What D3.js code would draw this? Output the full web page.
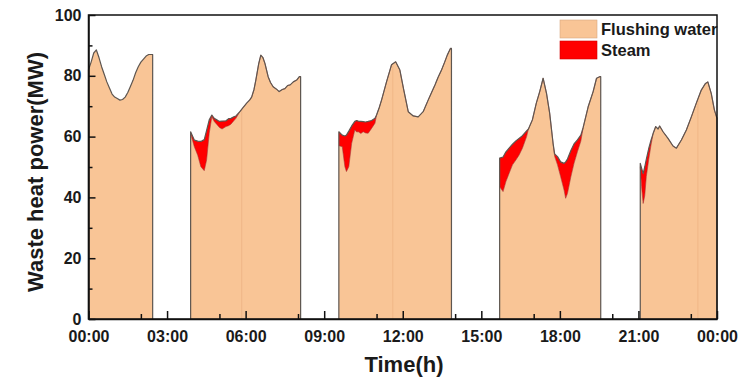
<!DOCTYPE html>
<html>
<head>
<meta charset="utf-8">
<script src="https://cdn.jsdelivr.net/npm/d3@7"></script>
<style>
  html, body { margin: 0; padding: 0; background: #fff; }
  svg { display: block; font-family: "Liberation Sans", Arial, sans-serif; }
</style>
</head>
<body>
<div id="chart"></div>
<script>
// ---- Data (hours, MW) ----
const seg1Time  = [0, 0.1, 0.2, 0.3, 0.4, 0.5, 0.6, 0.7, 0.8, 0.9, 1.0, 1.1, 1.2, 1.3, 1.4, 1.5, 1.6, 1.7, 1.8, 1.9, 2.0, 2.1, 2.2, 2.3, 2.45];
const seg1Flush = [82, 84.5, 87.5, 88.5, 86, 83, 80.5, 78, 76, 74, 73, 72.5, 72, 72.2, 73, 74.5, 76.5, 78.5, 81, 83, 84.5, 85.5, 86.5, 87, 87];
const seg1Steam = [0, 0, 0, 0, 0, 0, 0, 0, 0, 0, 0, 0, 0, 0, 0, 0, 0, 0, 0, 0, 0, 0, 0, 0, 0];

const seg2Time  = [3.90, 4.04, 4.17, 4.29, 4.42, 4.51, 4.61, 4.71, 4.80, 4.90, 5.00, 5.10, 5.25, 5.35, 5.44, 5.55, 5.63, 5.78, 5.90, 6.04, 6.15, 6.23, 6.32, 6.39, 6.50, 6.58, 6.66, 6.74, 6.86, 6.95, 7.05, 7.18, 7.28, 7.40, 7.50, 7.60, 7.70, 7.82, 7.95, 8.05, 8.10];
const seg2Flush = [61.0, 56.7, 53.9, 50.1, 48.8, 52.3, 61.1, 66.5, 65.0, 64.0, 63.0, 62.5, 63.3, 63.6, 64.1, 65.2, 66.0, 68.2, 69.5, 71.0, 72.0, 73.0, 75.5, 78.6, 84.0, 86.8, 86.0, 84.0, 79.7, 77.8, 76.4, 75.6, 74.8, 75.5, 75.8, 76.8, 77.0, 78.0, 78.6, 79.7, 79.7];
const seg2Steam = [0.6, 2.2, 4.6, 8.3, 10.2, 9.7, 4.4, 0.6, 1.0, 1.5, 2.0, 2.6, 1.9, 2.3, 1.9, 1.3, 0.8, 0, 0, 0, 0, 0, 0, 0, 0, 0, 0, 0, 0, 0, 0, 0, 0, 0, 0, 0, 0, 0, 0, 0, 0];

const seg3Time  = [9.56, 9.69, 9.79, 9.85, 9.94, 10.05, 10.17, 10.24, 10.30, 10.40, 10.49, 10.58, 10.68, 10.81, 10.94, 11.00, 11.10, 11.19, 11.38, 11.57, 11.73, 11.89, 12.04, 12.21, 12.40, 12.59, 12.78, 12.97, 13.10, 13.23, 13.35, 13.48, 13.60, 13.70, 13.82, 13.86];
const seg3Flush = [57.0, 56.7, 50.1, 48.5, 50.1, 57.8, 62.2, 61.5, 61.6, 61.0, 61.6, 61.2, 61.1, 62.7, 64.4, 67.1, 69.5, 72.0, 78.0, 83.6, 84.6, 81.9, 75.3, 68.2, 66.8, 66.5, 68.2, 72.0, 74.5, 77.0, 79.5, 81.9, 84.5, 86.8, 89.0, 89.0];
const seg3Steam = [4.6, 3.8, 10.1, 12.0, 11.7, 5.7, 2.8, 3.8, 3.5, 4.0, 3.3, 3.6, 3.9, 2.6, 1.6, 0, 0, 0, 0, 0, 0, 0, 0, 0, 0, 0, 0, 0, 0, 0, 0, 0, 0, 0, 0, 0];

const seg4Time  = [15.70, 15.83, 15.94, 16.06, 16.19, 16.32, 16.44, 16.57, 16.73, 16.80, 16.95, 17.10, 17.23, 17.36, 17.49, 17.61, 17.74, 17.80, 17.91, 18.03, 18.16, 18.22, 18.29, 18.42, 18.54, 18.67, 18.80, 18.89, 19.08, 19.27, 19.40, 19.52, 19.56];
const seg4Flush = [43.5, 41.9, 45.2, 47.9, 50.7, 52.3, 53.9, 56.2, 60.0, 62.5, 65.5, 71.0, 74.8, 79.2, 74.2, 67.7, 57.8, 53.5, 50.7, 46.8, 42.4, 39.7, 41.3, 46.8, 51.2, 55.0, 58.5, 63.0, 69.8, 74.8, 79.2, 79.7, 79.7];
const seg4Steam = [9.4, 11.4, 9.8, 8.3, 6.8, 6.3, 5.5, 4.1, 1.9, 0, 0, 0, 0, 0, 0, 0, 0, 0.8, 2.7, 4.9, 8.8, 12.0, 11.3, 8.6, 6.4, 3.9, 2.0, 0, 0, 0, 0, 0, 0];

const seg5Time  = [21.07, 21.12, 21.18, 21.24, 21.30, 21.39, 21.48, 21.56, 21.66, 21.75, 21.81, 21.94, 22.13, 22.32, 22.45, 22.64, 22.83, 23.02, 23.21, 23.40, 23.56, 23.65, 23.78, 23.90, 24.00];
const seg5Flush = [50.1, 43.5, 38.0, 40.5, 46.8, 52.3, 57.2, 61.0, 63.3, 62.5, 63.5, 61.6, 59.4, 56.9, 56.2, 58.9, 62.2, 66.5, 71.0, 75.3, 77.5, 78.0, 74.2, 68.8, 66.0];
const seg5Steam = [1.1, 6.1, 9.8, 9.5, 5.7, 3.7, 1.6, 0, 0, 0, 0, 0, 0, 0, 0, 0, 0, 0, 0, 0, 0, 0, 0, 0, 0];

// faint fill seams visible inside the orange areas of the original
const seamTimes = [5.85, 11.62, 23.27];

const xTickValues = [0, 3, 6, 9, 12, 15, 18, 21, 24];
const xTickLabels = ["00:00", "03:00", "06:00", "09:00", "12:00", "15:00", "18:00", "21:00", "00:00"];
const xMinorTicks = [2, 5, 8, 11, 14, 17, 20, 23];
const yTickValues = [0, 20, 40, 60, 80, 100];
const yMinorTicks = [10, 30, 50, 70, 90];
const seriesNames = ["Flushing water", "Steam"];
const seriesColors = ["#F9C596", "#FF0000"];

// ---- Build ----
const W = 751, H = 383;
const mLeft = 88.5, mRight = 717, mTop = 15, mBottom = 319;

const segments = [
  [seg1Time, seg1Flush, seg1Steam],
  [seg2Time, seg2Flush, seg2Steam],
  [seg3Time, seg3Flush, seg3Steam],
  [seg4Time, seg4Flush, seg4Steam],
  [seg5Time, seg5Flush, seg5Steam]
].map(([t, f, s]) => t.map((d, i) => ({ t: d, f: f[i], s: s[i] })));

const x = d3.scaleLinear().domain([0, 24]).range([mLeft, mRight]);
const y = d3.scaleLinear().domain([0, 100]).range([mBottom, mTop]);

const svg = d3.select("#chart").append("svg").attr("width", W).attr("height", H);

const flushArea = d3.area().x(d => x(d.t)).y0(y(0)).y1(d => y(d.f));
const steamArea = d3.area().x(d => x(d.t)).y0(d => y(d.f)).y1(d => y(d.f + d.s));
const outline = d3.line().x(d => x(d.t)).y(d => y(d.v));
const flushLine = d3.line().x(d => x(d.t)).y(d => y(d.f));

const plot = svg.append("g");
segments.forEach(seg => {
  plot.append("path").attr("d", flushArea(seg)).attr("fill", seriesColors[0]);
  // seams
  seamTimes.forEach(st => {
    if (st > seg[0].t && st < seg[seg.length - 1].t) {
      const fv = d3.scaleLinear().domain(seg.map(d => d.t)).range(seg.map(d => d.f))(st);
      plot.append("line").attr("x1", x(st)).attr("x2", x(st)).attr("y1", y(0)).attr("y2", y(fv) + 1)
        .attr("stroke", "#EBB080").attr("stroke-width", 1).attr("stroke-opacity", 0.7);
    }
  });
  plot.append("path").attr("d", steamArea(seg)).attr("fill", seriesColors[1]);
  if (seg.some(d => d.s > 0)) {
    plot.append("path").attr("d", flushLine(seg))
      .attr("fill", "none").attr("stroke", "#a0302a").attr("stroke-width", 0.7).attr("stroke-opacity", 0.8);
  }
  const pts = [{ t: seg[0].t, v: 0 }]
    .concat(seg.map(d => ({ t: d.t, v: d.f + d.s })))
    .concat([{ t: seg[seg.length - 1].t, v: 0 }]);
  plot.append("path").attr("d", outline(pts))
    .attr("fill", "none").attr("stroke", "#5e5650").attr("stroke-width", 1.2)
    .attr("stroke-linejoin", "round");
});

// ---- Axes ----
const fontStyle = sel => sel.attr("font-family", '"Liberation Sans", Arial, sans-serif')
  .attr("font-weight", "bold").attr("font-size", 16).attr("fill", "#1a1a1a");

const xAxis = svg.append("g").attr("transform", `translate(0,${mBottom})`)
  .call(d3.axisBottom(x).tickValues(xTickValues).tickFormat((d, i) => xTickLabels[i])
    .tickSizeInner(-8).tickSizeOuter(0).tickPadding(12));
xAxis.selectAll("text").call(fontStyle);
const xMinor = svg.append("g").attr("transform", `translate(0,${mBottom})`)
  .call(d3.axisBottom(x).tickValues(xMinorTicks).tickFormat("").tickSizeInner(-5).tickSizeOuter(0));
xMinor.select(".domain").remove();

const yAxis = svg.append("g").attr("transform", `translate(${mLeft},0)`)
  .call(d3.axisLeft(y).tickValues(yTickValues).tickSizeInner(-7).tickSizeOuter(0).tickPadding(7));
yAxis.selectAll("text").call(fontStyle);
const yMinor = svg.append("g").attr("transform", `translate(${mLeft},0)`)
  .call(d3.axisLeft(y).tickValues(yMinorTicks).tickFormat("").tickSizeInner(-4).tickSizeOuter(0));
yMinor.select(".domain").remove();

svg.selectAll(".tick line").attr("stroke", "#111").attr("stroke-width", 1.5);
svg.selectAll(".domain").attr("stroke", "#111").attr("stroke-width", 1.5);

// frame
svg.append("rect").attr("x", mLeft).attr("y", mTop).attr("width", mRight - mLeft).attr("height", mBottom - mTop)
  .attr("fill", "none").attr("stroke", "#111").attr("stroke-width", 1.5);

// axis titles
svg.append("text").attr("transform", `translate(43,${(mTop + mBottom) / 2 + 5}) rotate(-90)`)
  .attr("text-anchor", "middle").attr("font-weight", "bold").attr("font-size", 22)
  .attr("fill", "#1a1a1a").text("Waste heat power(MW)");
svg.append("text").attr("x", 404).attr("y", 372)
  .attr("text-anchor", "middle").attr("font-weight", "bold").attr("font-size", 22)
  .attr("fill", "#1a1a1a").text("Time(h)");

// legend
const leg = svg.append("g");
seriesNames.forEach((name, i) => {
  const yy = 20 + i * 21;
  leg.append("rect").attr("x", 560).attr("y", yy).attr("width", 37).attr("height", 18)
    .attr("fill", seriesColors[i]).attr("stroke", i === 0 ? "#d8a880" : "#d00000").attr("stroke-width", 0.6);
  leg.append("text").attr("x", 601).attr("y", yy + 15).attr("font-weight", "bold")
    .attr("font-size", 16.5).attr("fill", "#1a1a1a").text(name);
});
</script>
</body>
</html>
